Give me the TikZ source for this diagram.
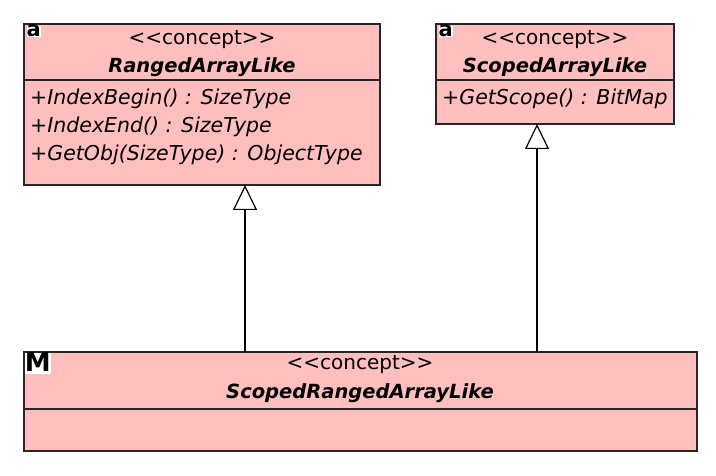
\documentclass[tikz,border=0pt]{standalone}
\usepackage{fontspec}
\setmainfont{DejaVu Sans}
\usetikzlibrary{arrows.meta}
\definecolor{boxfill}{RGB}{255,191,191}
\newcommand{\stereotxt}{{<}{<}concept{>}{>}}
\begin{document}
\begin{tikzpicture}[x=1pt,y=-1pt,
  boxline/.style={draw=black!85,line width=1.2pt,fill=boxfill},
  sep/.style={draw=black!85,line width=1.2pt},
  stereo/.style={font=\fontsize{20}{22}\selectfont,inner sep=0pt,anchor=center},
  cname/.style={font=\fontsize{19.5}{20}\selectfont\bfseries\itshape,inner sep=0pt,anchor=center},
  member/.style={font=\fontsize{20.5}{22}\selectfont\itshape,inner sep=0pt,anchor=west},
  icon/.style={font=\fontsize{21}{21}\selectfont\bfseries,fill=white,inner sep=0pt,text height=10pt,text depth=1pt,minimum width=11pt,anchor=north west},
  gen/.style={draw=black,line width=1.2pt,-{Triangle[open,width=24pt,length=25pt,line width=1.2pt]}}]
\useasboundingbox (0,0) rectangle (716,476);
% box 1
\draw[boxline] (24,24) rectangle (380,185);
\draw[sep] (24,80) -- (380,80);
\node[icon] (i1) at (26.5,26) {a};
\node[stereo] (s1) at (202,40) {\stereotxt};
\node[cname] (n1) at (202,67) {RangedArrayLike};
\node[member] (m1) at (30,99) {+IndexBegin() : SizeType};
\node[member] (m2) at (30,127) {+IndexEnd() : SizeType};
\node[member] (m3) at (30,155) {+GetObj(SizeType) : ObjectType};
\coordinate (b1) at (245,185);
% box 2
\draw[boxline] (436,24) rectangle (674,124);
\draw[sep] (436,80) -- (674,80);
\node[icon] (i2) at (438.5,26) {a};
\node[stereo] (s2) at (555,40) {\stereotxt};
\node[cname] (n2) at (555,67) {ScopedArrayLike};
\node[member] (m4) at (442,99) {+GetScope() : BitMap};
\coordinate (b2) at (537,124);
% box 3
\draw[boxline] (24,352) rectangle (697,451);
\draw[sep] (24,409) -- (697,409);
\node[icon,font=\fontsize{26}{26}\selectfont\bfseries,text height=19pt,text depth=2pt,minimum width=22pt] (i3) at (24.6,352.6) {M};
\node[stereo] (s3) at (360,365) {\stereotxt};
\node[cname] (n3) at (360,393) {ScopedRangedArrayLike};
\coordinate (t1) at (245,352);
\coordinate (t2) at (537,352);
% generalizations
\draw[gen] (t1) -- (b1);
\draw[gen] (t2) -- (b2);
\end{tikzpicture}
\end{document}
